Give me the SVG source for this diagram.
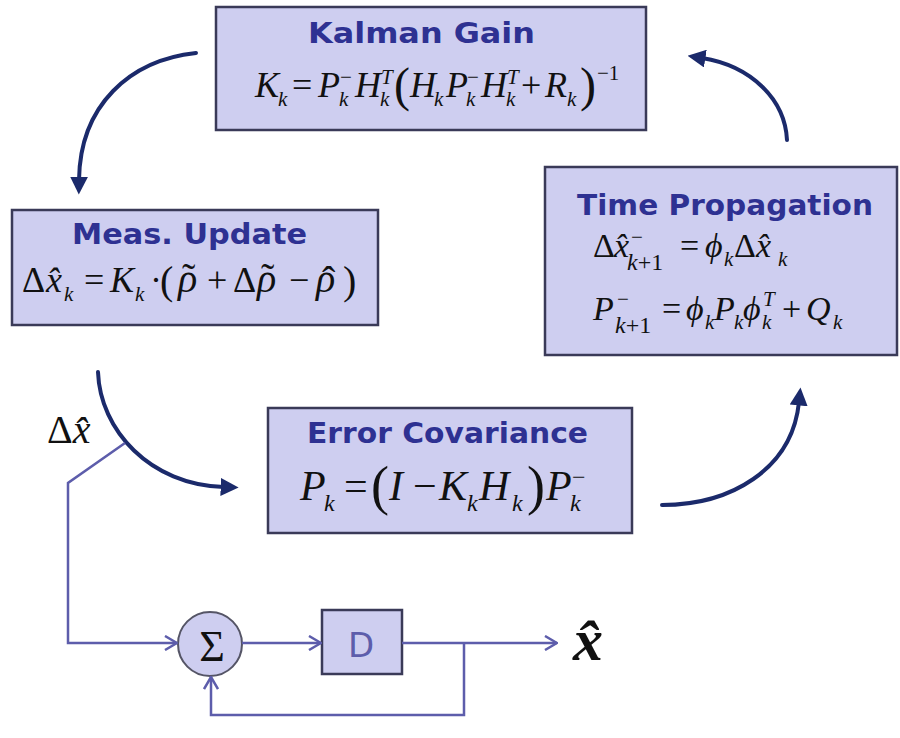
<svg xmlns="http://www.w3.org/2000/svg" width="900" height="738" viewBox="0 0 900 738">
<defs>
<style>
.box{fill:#ceceF0;stroke:#3a3a58;stroke-width:2.5}
.title{font-family:"DejaVu Sans","Liberation Sans",sans-serif;font-weight:bold;font-size:29px;fill:#2e3192}
.f{font-family:"Liberation Serif","Times New Roman",serif;fill:#111}
.i{font-style:italic}
.s{font-size:21px}
.s2{font-size:24px}
.big{stroke:#1b2a6b;stroke-width:4;fill:none;stroke-linecap:round}
.thin{stroke:#5d5dab;stroke-width:2.5;fill:none}
</style>
<marker id="ah" markerUnits="userSpaceOnUse" markerWidth="18" markerHeight="18" viewBox="0 0 16 16" refX="3" refY="8" orient="auto">
<path d="M0,0 L16,8 L0,16 z" fill="#1b2a6b"/>
</marker>
<marker id="oh" markerUnits="userSpaceOnUse" markerWidth="14" markerHeight="16" viewBox="0 0 14 16" refX="13" refY="8" orient="auto">
<path d="M1,1 L13,8 L1,15" fill="none" stroke="#5d5dab" stroke-width="2.5"/>
</marker>
</defs>
<rect width="900" height="738" fill="#fff"/>

<g id="kalman-gain">
<rect class="box" x="216" y="7" width="430" height="123"/>
<text class="title" x="308" y="43" textLength="227" lengthAdjust="spacingAndGlyphs">Kalman Gain</text>
<text class="f" font-size="36">
<tspan x="255" y="97" class="i">K</tspan><tspan x="278" y="106" class="i s">k</tspan>
<tspan x="292" y="97">=</tspan>
<tspan x="318" y="97" class="i">P</tspan><tspan x="340" y="84" class="s">−</tspan><tspan x="339" y="106" class="i s">k</tspan>
<tspan x="355" y="97" class="i">H</tspan><tspan x="381" y="84" class="i s">T</tspan><tspan x="380" y="106" class="i s">k</tspan>
<tspan x="394" y="101" font-size="48">(</tspan>
<tspan x="410" y="97" class="i">H</tspan><tspan x="434" y="106" class="i s">k</tspan>
<tspan x="446" y="97" class="i">P</tspan><tspan x="467" y="84" class="s">−</tspan><tspan x="466" y="106" class="i s">k</tspan>
<tspan x="481" y="97" class="i">H</tspan><tspan x="507" y="84" class="i s">T</tspan><tspan x="506" y="106" class="i s">k</tspan>
<tspan x="521" y="97">+</tspan>
<tspan x="545" y="97" class="i">R</tspan><tspan x="567" y="106" class="i s">k</tspan>
<tspan x="580" y="101" font-size="48">)</tspan><tspan x="597" y="80" class="s">−1</tspan>
</text>
</g>

<g id="meas-update">
<rect class="box" x="12" y="210" width="366" height="115"/>
<text class="title" x="72" y="244" textLength="235" lengthAdjust="spacingAndGlyphs">Meas. Update</text>
<text class="f" font-size="36">
<tspan x="22" y="292">Δ</tspan><tspan x="46" y="292" class="i">x̂</tspan><tspan x="64" y="301" class="i s">k</tspan>
<tspan x="84" y="292">=</tspan>
<tspan x="110" y="292" class="i">K</tspan><tspan x="135" y="301" class="i s">k</tspan>
<tspan x="150" y="292">·</tspan>
<tspan x="160" y="294" font-size="40">(</tspan>
<tspan x="178" y="292" class="i" font-size="40">ρ</tspan><tspan x="182" y="291" font-size="40">˜</tspan>
<tspan x="207" y="292">+</tspan>
<tspan x="233" y="292">Δ</tspan><tspan x="257" y="292" class="i" font-size="40">ρ</tspan><tspan x="261" y="291" font-size="40">˜</tspan>
<tspan x="289" y="292">−</tspan>
<tspan x="316" y="292" class="i" font-size="40">ρ</tspan><tspan x="322" y="294" font-size="40">ˆ</tspan>
<tspan x="343" y="294" font-size="40">)</tspan>
</text>
</g>

<g id="time-propagation">
<rect class="box" x="545" y="167" width="352" height="188"/>
<text class="title" x="577" y="215" textLength="296" lengthAdjust="spacingAndGlyphs">Time Propagation</text>
<text class="f" font-size="34">
<tspan x="593" y="257">Δ</tspan><tspan x="614" y="257" class="i">x̂</tspan><tspan x="631" y="244" class="s">−</tspan><tspan x="627" y="270" class="i s2">k</tspan><tspan y="270" class="s2">+1</tspan>
<tspan x="680" y="257">=</tspan>
<tspan x="705" y="257" class="i">ϕ</tspan><tspan x="724" y="266" class="i s">k</tspan>
<tspan x="734" y="257">Δ</tspan><tspan x="756" y="257" class="i">x̂</tspan><tspan x="778" y="266" class="i s">k</tspan>
</text>
<text class="f" font-size="34">
<tspan x="593" y="320" class="i">P</tspan><tspan x="617" y="306" class="s">−</tspan><tspan x="615" y="333" class="i s2">k</tspan><tspan y="333" class="s2">+1</tspan>
<tspan x="662" y="320">=</tspan>
<tspan x="686" y="320" class="i">ϕ</tspan><tspan x="705" y="329" class="i s">k</tspan>
<tspan x="714" y="320" class="i">P</tspan><tspan x="734" y="329" class="i s">k</tspan>
<tspan x="743" y="320" class="i">ϕ</tspan><tspan x="763" y="306" class="i s">T</tspan><tspan x="762" y="329" class="i s">k</tspan>
<tspan x="782" y="320">+</tspan>
<tspan x="806" y="320" class="i">Q</tspan><tspan x="833" y="329" class="i s">k</tspan>
</text>
</g>

<g id="error-covariance">
<rect class="box" x="268" y="408" width="364" height="125"/>
<text class="title" x="307" y="443" textLength="281" lengthAdjust="spacingAndGlyphs">Error Covariance</text>
<text class="f" font-size="42">
<tspan x="300" y="500" class="i">P</tspan><tspan x="324" y="511" class="i" font-size="24">k</tspan>
<tspan x="344" y="500">=</tspan>
<tspan x="371" y="504" font-size="54">(</tspan>
<tspan x="389" y="500" class="i">I</tspan>
<tspan x="413" y="500">−</tspan>
<tspan x="439" y="500" class="i">K</tspan><tspan x="467" y="511" class="i" font-size="24">k</tspan>
<tspan x="479" y="500" class="i">H</tspan><tspan x="512" y="511" class="i" font-size="24">k</tspan>
<tspan x="527" y="504" font-size="54">)</tspan>
<tspan x="546" y="500" class="i">P</tspan><tspan x="572" y="485" font-size="24">−</tspan><tspan x="570" y="511" class="i" font-size="24">k</tspan>
</text>
</g>

<g id="sum">
<circle cx="210" cy="644" r="32" fill="#ceceF0" stroke="#555566" stroke-width="2"/>
<text class="f" x="212" y="661" font-size="44" text-anchor="middle" fill="#222">Σ</text>
</g>

<g id="delay">
<rect x="322" y="610" width="80" height="64" fill="#ceceF0" stroke="#3a3a58" stroke-width="2.5"/>
<text x="361" y="657" font-family="DejaVu Sans, sans-serif" font-size="34" text-anchor="middle" fill="#5d5dab">D</text>
</g>

<g id="labels">
<text class="f" x="47" y="443" font-size="40"><tspan>Δ</tspan><tspan class="i">x̂</tspan></text>
<text class="f" x="573" y="660" font-size="60" font-weight="bold" font-style="italic">x̂</text>
</g>

<g id="connectors">
<path class="big" d="M196,53 C130,60 80,105 79,180" marker-end="url(#ah)"/>
<path class="big" d="M787,140 C785,100 752,66 702,58" marker-end="url(#ah)"/>
<path class="big" d="M662,505 C730,505 792,470 799,402" marker-end="url(#ah)"/>
<path class="big" d="M98,372 C100,430 150,485 224,487" marker-end="url(#ah)"/>
<path class="thin" d="M125,443 L68,483 L68,643 L177,643" marker-end="url(#oh)"/>
<path class="thin" d="M242,643 L321,643" marker-end="url(#oh)"/>
<path class="thin" d="M402,643 L557,643" marker-end="url(#oh)"/>
<path class="thin" d="M464,643 L464,715 L211,715 L211,677" marker-end="url(#oh)"/>
</g>
</svg>
